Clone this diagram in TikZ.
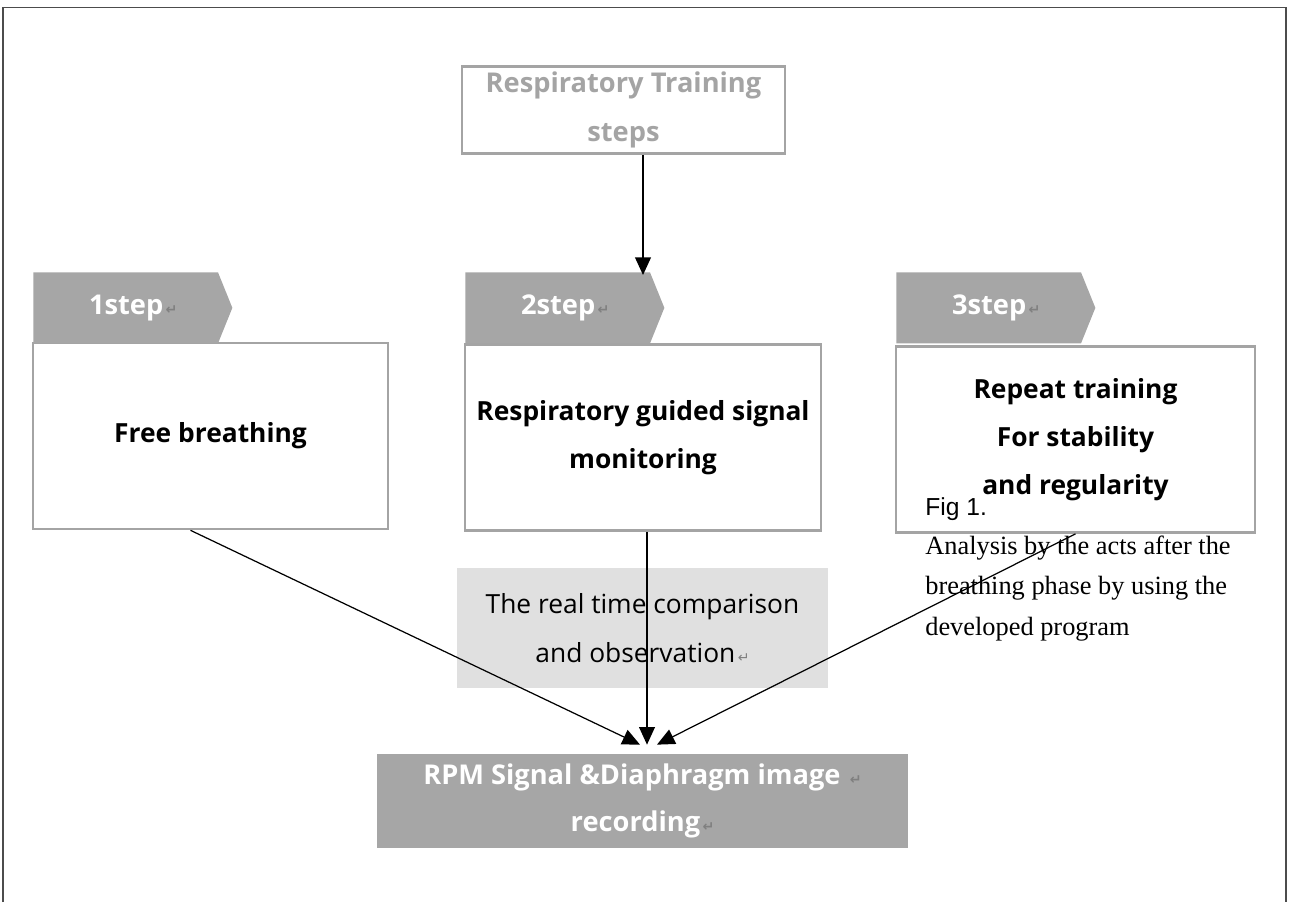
\documentclass[tikz,border=0pt]{standalone}
\usepackage{fontspec}
\setmainfont{Liberation Serif}
\newfontfamily\boxfont{Open Sans}
\newfontfamily\figfont{Liberation Sans}
\newfontfamily\symfont{DejaVu Sans}
\usetikzlibrary{positioning,arrows.meta,shapes.symbols}

\definecolor{tagfill}{HTML}{A6A6A6}
\definecolor{boxline}{HTML}{A4A4A4}
\definecolor{obsfill}{HTML}{E0E0E0}
\newcommand{\retmark}{{\symfont\fontsize{8}{8}\selectfont\color{gray}\,↵}}

\begin{document}
\begin{tikzpicture}
	[   stepbox/.style={draw=boxline,line width=1.5pt,fill=white,minimum width=#1,minimum height=3.72cm,align=center,font=\boxfont\bfseries\fontsize{15}{27.5}\selectfont},
		steptag/.style={signal,signal to=east,signal pointer angle=136,fill=tagfill,minimum width=3.98cm,minimum height=1.42cm,inner sep=0pt,text=white,font=\boxfont\bfseries\fontsize{15.5}{18}\selectfont},
	]
	\tikzset{normal arrow/.style={draw,line width=0.7pt,-{Triangle[length=10pt,width=9pt]}}}
	\useasboundingbox (0,0) rectangle (25.78,-18.04);
	\draw[line width=0.6pt,black!70] (0.06,-18.04) -- (0.06,-0.15) -- (25.72,-0.15) -- (25.72,-18.04);
	
	\node[draw=boxline,line width=1.5pt,minimum width=6.46cm,minimum height=1.72cm,align=center,text=boxline,font=\boxfont\bfseries\fontsize{15.5}{27.5}\selectfont] (title) at (12.47,-2.2) {Respiratory Training\\steps};
	
	\node[stepbox=7.1cm] (box-1) at (4.21,-8.72) {Free breathing};
	\node[stepbox=7.12cm] (box-2) at (12.86,-8.75) {Respiratory guided signal\\monitoring};
	\node[stepbox=7.18cm] (box-3) at (21.51,-8.79) {Repeat training\\For stability\\and regularity};
	
	\foreach \x/\px in {1/0.66,2/9.3,3/17.92}
	{
		\node[steptag,anchor=north west] (tag-\x) at (\px,-5.44) {\hspace*{0.3cm}\x step\retmark};
	}
	
	\node[fill=obsfill,minimum width=7.42cm,minimum height=2.4cm,align=center,font=\boxfont\fontsize{15}{27.5}\selectfont] (obs) at (12.85,-12.56) {The real time comparison\\and observation\retmark};
	\node[fill=tagfill,minimum width=10.62cm,minimum height=1.88cm,align=center,text=white,font=\boxfont\bfseries\fontsize{15.5}{27}\selectfont] (rec) at (12.85,-16.02) {RPM Signal \&Diaphragm image \retmark\\recording\retmark};
	
	\node[anchor=west,font=\figfont\fontsize{14}{16}\selectfont,inner sep=0pt] (fig) at (18.5,-10.18) {Fig 1.};
	\node[anchor=north west,align=left,inner sep=0pt,font=\fontsize{15}{22.8}\selectfont] (cap) at (18.5,-10.72) {Analysis by the acts after the\\breathing phase by using the\\developed program};
	
	\path[normal arrow] (title.south -| box-2.north) -- ([yshift=-0.06cm]tag-2.north -| box-2.north);
	\path[normal arrow] ([xshift=-0.4cm]box-1.south) -- ([xshift=-0.05cm,yshift=0.18cm]rec.north);
	\path[normal arrow] ([xshift=0.08cm]box-2.south) -- ([xshift=0.09cm,yshift=0.18cm]rec.north);
	\path[normal arrow] (box-3.south) -- ([xshift=0.29cm,yshift=0.18cm]rec.north);
\end{tikzpicture}
\end{document}
